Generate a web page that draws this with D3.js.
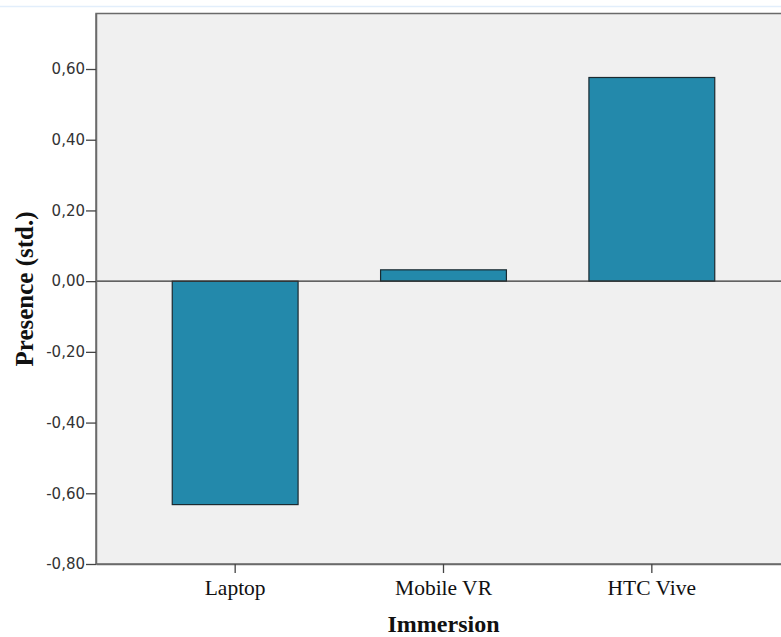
<!DOCTYPE html>
<html>
<head>
<meta charset="utf-8">
<script src="https://cdn.jsdelivr.net/npm/d3@7"></script>
<style>
  body { margin: 0; background: #fff; }
  .y-axis text { font-family: "DejaVu Sans", sans-serif; font-size: 15px; fill: #333; }
  .x-axis text { font-family: "Liberation Serif", "Times New Roman", serif; font-size: 21.5px; fill: #111; }
  .title { font-family: "Liberation Serif", "Times New Roman", serif; font-weight: bold; fill: #111; }
</style>
</head>
<body>
<div id="chart"></div>
<script>
// data
const categories = ["Laptop", "Mobile VR", "HTC Vive"];
const presence = [-0.632, 0.032, 0.576];
const yTicks = [-0.8, -0.6, -0.4, -0.2, 0, 0.2, 0.4, 0.6];

const width = 781,
    height = 637,
    margin = ({ top: 13.5, right: -10, bottom: 73, left: 96 }); // right side is cut off in the original

const svg = d3.select("#chart")
    .append("svg")
    .attr("width", width)
    .attr("height", height);

// faint line across the top of the screenshot
svg.append("line")
    .attr("x1", 0).attr("x2", width)
    .attr("y1", 6.5).attr("y2", 6.5)
    .attr("stroke", "#e2eefb")
    .attr("stroke-width", 1.5);

let x = d3.scaleBand()
    .domain(categories)
    .range([margin.left, width - margin.right])
    .paddingInner(0.396)
    .paddingOuter(0.366);

let y = d3.scaleLinear()
    .domain([-0.8, 0.757])
    .range([height - margin.bottom, margin.top]);

// plot background
svg.append("rect")
    .attr("x", margin.left)
    .attr("y", margin.top)
    .attr("width", width - margin.right - margin.left)
    .attr("height", height - margin.bottom - margin.top)
    .attr("fill", "#f0f0f0")
    .attr("stroke", "#6a6a6a")
    .attr("stroke-width", 1.5);

// bars
svg.append("g")
  .selectAll("rect")
  .data(categories)
  .join("rect")
    .attr("x", d => x(d))
    .attr("width", x.bandwidth())
    .attr("y", (d, i) => y(Math.max(0, presence[i])))
    .attr("height", (d, i) => Math.abs(y(presence[i]) - y(0)))
    .attr("fill", "#2389ab")
    .attr("stroke", "#1b2a30")
    .attr("stroke-width", 1.2);

// zero line
svg.append("line")
    .attr("x1", margin.left).attr("x2", width - margin.right)
    .attr("y1", y(0)).attr("y2", y(0))
    .attr("stroke", "#333")
    .attr("stroke-width", 1.3);

const fmt = d => d3.format(".2f")(d).replace(".", ",").replace("−", "-");

svg.append("g")
    .attr("class", "y-axis")
    .attr("transform", `translate(${margin.left},0)`)
    .call(d3.axisLeft(y).tickValues(yTicks).tickFormat(fmt).tickSize(10).tickPadding(1).tickSizeOuter(0))
    .call(g => g.select(".domain").attr("stroke", "#6a6a6a").attr("stroke-width", 1.5))
    .call(g => g.selectAll(".tick line").attr("stroke", "#444").attr("stroke-width", 1.3));

svg.append("g")
    .attr("class", "x-axis")
    .attr("transform", `translate(0,${height - margin.bottom})`)
    .call(d3.axisBottom(x).tickSize(9).tickPadding(7).tickSizeOuter(0))
    .call(g => g.select(".domain").attr("stroke", "#6a6a6a").attr("stroke-width", 1.5))
    .call(g => g.selectAll(".tick line").attr("stroke", "#444").attr("stroke-width", 1.3));

svg.append("text")
    .attr("class", "title")
    .attr("text-anchor", "middle")
    .attr("x", (margin.left + width - margin.right) / 2)
    .attr("y", 632)
    .style("font-size", "24px")
    .text("Immersion");

svg.append("text")
    .attr("class", "title")
    .attr("text-anchor", "middle")
    .attr("transform", "translate(33,289) rotate(-90)")
    .style("font-size", "25px")
    .text("Presence (std.)");
</script>
</body>
</html>
